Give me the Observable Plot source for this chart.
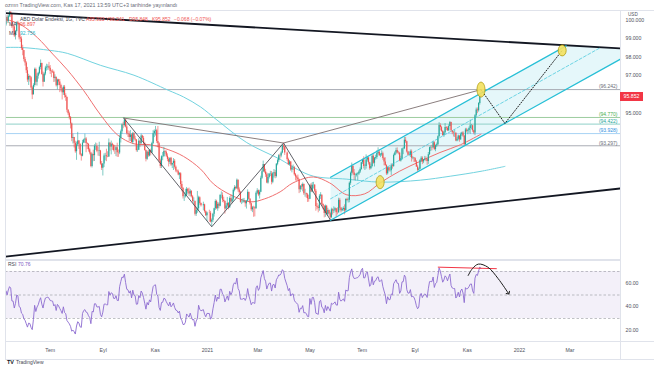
<!DOCTYPE html>
<html><head><meta charset="utf-8">
<script src="https://cdn.jsdelivr.net/npm/d3@7"></script>
<script src="https://cdn.jsdelivr.net/npm/@observablehq/plot@0.6"></script>
<style>
html,body{margin:0;padding:0;background:#fff;}
#wrap{position:relative;width:654px;height:366px;overflow:hidden;background:#fff;font-family:"Liberation Sans",Arial,sans-serif;}
#wrap > svg{position:absolute;left:0;}
.t{position:absolute;white-space:nowrap;line-height:1;}
.ln{position:absolute;background:#e0e3eb;}
</style></head><body><div id="wrap"></div>
<script>
// ---------------- DATA ----------------
const firstMonday = "2020-04-20"; // each row = one week, Mon..Fri (null = no bar)
const closeWeeks = [
[99.93,100.21,100.37,100.41,100.38],[100.01,99.86,99.54,99.02,99.07],[99.47,99.73,100.06,99.74,99.74],
[100.16,99.94,100.23,100.44,100.37],[99.64,99.63,99.14,99.38,99.86],[99.82,99.04,98.97,98.45,98.34],
[97.86,97.67,97.25,96.75,96.94],[96.88,96.32,95.96,96.46,97.32],[96.63,96.95,97.11,97.42,97.64],
[97.05,96.64,97.07,97.40,97.44],[97.46,97.39,97.21,97.19,97.17],[96.83,96.90,96.45,96.76,96.65],
[96.46,96.29,96.07,96.37,95.92],[95.82,95.15,94.96,94.76,94.43],[93.67,93.72,93.43,92.99,93.34],
[93.54,93.37,92.84,92.76,93.44],[93.60,93.65,93.42,93.38,93.09],[92.93,92.23,92.85,92.79,93.26],
[93.26,93.01,93.00,93.03,92.36],[92.14,92.36,92.77,92.78,92.73],[92.72,93.44,93.23,93.37,93.33],
[93.06,93.05,93.19,92.94,92.93],[93.66,94.02,94.38,94.35,94.64],[94.27,93.92,93.89,93.72,93.85],
[93.47,93.92,93.65,93.60,93.06],[93.07,93.53,93.40,93.80,93.68],[93.42,93.05,92.60,92.96,92.77],
[93.06,92.92,93.42,93.92,94.04],[94.07,93.52,93.40,92.51,92.24],[92.73,92.74,93.00,92.96,92.76],
[92.60,92.45,92.65,92.31,92.39],[92.50,92.20,92.00,91.97,91.80],[91.87,91.32,91.12,90.70,90.70],
[90.78,91.08,90.96,90.84,90.98],[90.71,90.46,90.48,89.83,90.02],[90.10,90.65,90.36,90.25,null],
[90.30,89.96,89.76,89.89,null],[89.88,89.44,89.53,89.83,90.10],[90.47,90.11,90.33,90.23,90.77],
[90.77,90.53,90.47,90.09,90.24],[90.38,90.15,90.62,90.44,90.58],[91.03,91.17,91.11,91.53,91.04],
[90.91,90.42,90.42,90.43,90.47],[90.35,90.48,90.93,90.58,90.35],[90.05,90.15,90.14,90.10,90.88],
[91.01,90.79,90.93,91.64,91.97],[92.33,91.95,91.82,91.40,91.67],[91.84,91.85,91.43,91.87,91.91],
[91.72,92.35,92.53,92.78,92.77],[92.93,93.29,93.23,92.93,null],[92.59,92.33,92.47,92.05,92.16],
[92.17,91.82,91.70,91.65,91.56],[91.06,91.23,91.20,91.32,90.85],[90.86,90.80,90.60,90.58,91.28],
[90.94,91.28,91.28,90.98,90.22],[90.18,90.12,90.73,90.79,90.31],[90.23,89.87,90.23,89.82,90.02],
[89.85,89.66,90.06,89.99,90.03],[90.10,89.91,89.90,90.53,90.13],[90.01,90.07,90.12,89.99,90.56],
[90.52,90.53,91.38,91.89,92.23],[91.90,91.78,91.79,91.83,91.85],[91.95,92.08,92.43,92.58,92.23],
[92.24,92.57,92.67,92.42,92.12],[92.24,92.76,92.40,92.66,92.69],[92.90,92.97,92.79,92.82,92.89],
[92.64,92.46,92.29,91.86,92.17],[92.02,92.02,92.27,92.24,92.80],[92.93,93.05,92.92,92.91,92.52],
[92.63,93.13,93.14,93.58,93.50],[92.98,92.81,92.81,92.99,92.65],[92.67,92.63,92.47,92.21,92.04],
[92.10,92.54,92.66,92.47,92.58],[92.62,92.60,92.49,92.84,93.20],[93.21,93.20,93.45,93.10,93.30],
[93.35,93.77,94.35,94.24,94.04],[93.83,93.97,94.25,94.20,94.07],[94.30,94.51,94.08,93.97,93.95],
[93.95,93.55,93.63,93.80,93.60],[93.87,93.96,93.80,93.35,94.12],[94.05,94.09,94.19,94.33,94.34],
[94.07,93.96,94.86,95.16,95.12],[95.50,95.92,95.852]
];
const highWeeks = [
[100.10,100.38,100.56,100.68,100.66],[100.44,100.18,99.98,99.60,99.28],[99.62,99.85,100.22,100.12,99.98],
[100.24,100.26,100.29,100.56,100.54],[100.38,99.77,99.70,99.44,99.92],[99.95,99.86,99.24,99.09,98.63],
[98.33,97.97,97.74,97.43,97.06],[96.99,96.93,96.40,96.55,97.39],[97.39,97.08,97.17,97.50,97.83],
[97.66,97.18,97.14,97.49,97.60],[97.57,97.70,97.53,97.28,97.30],[97.23,97.03,96.90,96.80,96.79],
[96.78,96.53,96.33,96.45,96.46],[96.02,95.85,95.18,95.05,94.82],[94.48,93.90,93.73,93.53,93.49],
[93.99,93.57,93.39,92.89,93.58],[93.64,93.90,93.72,93.45,93.39],[93.17,92.97,92.91,93.07,93.35],
[93.44,93.40,93.22,93.48,93.06],[92.49,92.38,92.88,92.91,93.12],[92.99,93.65,93.44,93.54,93.43],
[93.34,93.31,93.25,93.43,93.08],[93.85,94.11,94.43,94.52,94.74],[94.70,94.36,94.08,94.03,94.09],
[93.92,93.99,93.98,93.79,93.62],[93.29,93.66,93.56,93.90,93.84],[93.78,93.47,93.08,93.02,93.06],
[93.09,93.12,93.48,94.08,94.12],[94.30,94.15,94.30,93.46,92.61],[92.78,92.95,93.21,93.05,93.03],
[92.88,92.69,92.66,92.70,92.40],[92.64,92.59,92.26,92.06,92.05],[91.92,91.92,91.47,91.17,90.91],
[91.08,91.17,91.11,91.14,91.07],[91.00,90.77,90.65,90.45,90.18],[90.97,90.73,90.70,90.39,null],
[90.43,90.33,90.00,89.94,null],[90.03,89.97,89.60,89.88,90.13],[90.55,90.53,90.42,90.40,90.82],
[90.95,90.90,90.68,90.50,90.36],[90.67,90.40,90.70,90.81,90.70],[91.10,91.26,91.23,91.60,91.55],
[91.15,90.97,90.57,90.60,90.62],[90.51,90.52,91.05,90.91,90.61],[90.39,90.22,90.23,90.20,90.95],
[91.11,91.04,91.03,91.74,92.17],[92.51,92.33,92.09,91.91,91.87],[91.88,91.99,91.98,91.93,92.08],
[92.03,92.39,92.61,92.84,92.87],[92.99,93.36,93.44,93.26,null],[92.98,92.66,92.54,92.48,92.26],
[92.31,92.23,91.88,91.77,91.80],[91.59,91.27,91.33,91.40,91.35],[91.08,90.89,90.87,90.78,91.30],
[91.37,91.42,91.43,91.32,91.07],[90.37,90.28,90.81,90.91,90.76],[90.35,90.26,90.29,90.27,90.13],
[90.05,89.93,90.13,90.10,90.20],[90.16,90.10,90.15,90.63,90.62],[90.17,90.14,90.20,90.30,90.60],
[90.63,90.64,91.45,91.95,92.41],[92.30,92.08,91.86,91.89,91.92],[92.02,92.16,92.45,92.61,92.73],
[92.32,92.83,92.75,92.70,92.45],[92.35,92.83,92.87,92.69,92.81],[93.04,93.19,93.07,92.90,93.04],
[92.97,92.70,92.68,92.32,92.21],[92.17,92.20,92.37,92.36,92.87],[92.99,93.17,93.19,93.01,92.96],
[92.76,93.16,93.22,93.73,93.73],[93.53,93.01,92.98,93.08,93.08],[92.74,92.69,92.68,92.54,92.30],
[92.16,92.59,92.74,92.73,92.59],[92.75,92.73,92.62,92.95,93.23],[93.28,93.32,93.53,93.51,93.34],
[93.44,93.81,94.50,94.44,94.31],[94.09,94.04,94.45,94.29,94.28],[94.38,94.56,94.52,94.07,94.04],
[94.11,93.97,93.73,93.85,93.81],[93.96,94.00,94.03,93.81,94.20],[94.20,94.15,94.27,94.63,94.40],
[94.36,94.10,94.92,95.26,95.27],[95.55,95.96,96.241]
];
const lowWeeks = [
[99.51,99.80,100.02,100.15,100.17],[99.92,99.75,99.42,98.87,98.80],[98.96,99.32,99.61,99.66,99.50],
[99.66,99.82,99.83,100.15,100.15],[99.55,99.31,99.05,98.92,99.30],[99.71,98.92,98.78,98.35,98.06],
[97.73,97.50,97.10,96.63,96.46],[96.64,96.26,95.71,95.97,96.37],[96.45,96.43,96.80,97.03,97.30],
[97.01,96.38,96.64,96.98,97.23],[97.27,97.28,97.05,96.88,97.10],[96.62,96.64,96.38,96.23,96.45],
[96.08,96.13,95.69,95.93,95.79],[95.62,95.02,94.87,94.64,94.17],[93.51,93.39,93.18,92.91,92.55],
[93.27,93.11,92.79,92.51,92.73],[93.41,93.42,92.94,93.10,92.97],[92.83,92.17,92.16,92.48,92.49],
[93.06,92.94,92.76,92.74,92.30],[92.03,91.75,92.18,92.52,92.48],[92.68,92.70,93.02,92.83,93.06],
[92.98,92.85,92.74,92.70,92.70],[92.84,93.44,93.89,94.18,94.27],[94.22,93.85,93.73,93.52,93.51],
[93.45,93.38,93.59,93.51,92.97],[92.96,93.05,93.20,93.38,93.58],[93.32,93.02,92.47,92.55,92.70],
[92.73,92.78,92.90,93.36,93.72],[93.80,93.42,93.19,92.41,92.13],[92.13,92.53,92.69,92.86,92.69],
[92.48,92.21,92.34,92.24,92.13],[92.03,92.10,91.92,91.90,91.76],[91.57,91.18,90.95,90.59,90.47],
[90.64,90.74,90.85,90.72,90.69],[90.64,90.39,90.25,89.74,89.72],[89.88,90.00,90.28,90.19,null],
[90.00,89.88,89.72,89.47,null],[89.43,89.40,89.21,89.42,89.69],[90.02,90.06,89.98,90.10,90.20],
[90.60,90.41,90.39,89.84,90.05],[90.15,90.05,90.12,90.33,90.37],[90.48,90.95,91.04,91.08,90.93],
[90.82,90.38,90.31,90.37,90.40],[90.18,90.09,90.45,90.55,90.28],[89.97,89.91,89.68,89.70,90.08],
[90.81,90.71,90.59,90.91,91.58],[91.93,91.89,91.68,91.36,91.34],[91.60,91.72,91.30,91.36,91.65],
[91.61,91.65,92.27,92.44,92.60],[92.68,92.88,93.06,92.80,null],[92.50,92.28,92.26,91.99,91.91],
[92.03,91.75,91.50,91.48,91.49],[90.86,90.91,91.04,90.95,90.77],[90.68,90.63,90.42,90.43,90.56],
[90.93,90.90,91.09,90.90,89.98],[90.05,89.90,89.98,90.57,90.26],[90.05,89.65,89.68,89.76,89.72],
[89.79,89.53,89.63,89.79,89.87],[89.95,89.68,89.80,89.88,90.00],[89.90,89.96,89.98,89.80,90.01],
[90.46,90.39,90.40,91.28,91.75],[91.81,91.52,91.50,91.70,91.51],[91.78,91.88,92.04,92.34,92.11],
[92.03,92.10,92.46,92.31,92.04],[92.07,92.17,92.35,92.21,92.56],[92.60,92.83,92.75,92.69,92.75],
[92.55,92.27,92.24,91.78,91.80],[91.96,91.95,91.78,92.10,92.19],[92.77,92.84,92.88,92.83,92.48],
[92.46,92.55,92.84,93.10,93.42],[92.92,92.77,92.76,92.69,92.46],[92.58,92.44,92.44,92.19,91.94],
[92.01,92.09,92.44,92.33,92.38],[92.52,92.48,92.29,92.34,92.79],[93.00,93.04,93.15,93.05,92.99],
[93.21,93.30,93.74,94.07,94.00],[93.79,93.73,93.91,94.08,94.04],[94.03,94.29,94.02,93.87,93.75],
[93.73,93.51,93.50,93.55,93.48],[93.59,93.78,93.73,93.27,93.28],[93.96,93.87,93.95,93.89,94.12],
[93.99,93.87,93.82,94.78,94.97],[95.05,95.42,95.848]
];

// moving averages
const redMaDates = ["2020-05-11","2020-05-28","2020-06-16","2020-07-04","2020-07-21","2020-08-09","2020-08-29","2020-09-18","2020-10-07","2020-10-26","2020-11-16","2020-12-04","2020-12-24","2021-01-08","2021-01-28","2021-02-20","2021-03-09","2021-03-27","2021-04-11","2021-05-05","2021-05-24","2021-06-13","2021-07-04","2021-07-22","2021-08-14","2021-09-07","2021-09-30","2021-10-24","2021-11-17"];
const redMaValues = [100.05,99.75,99.05,98.15,97.30,96.20,94.90,93.85,93.40,93.35,93.10,92.75,92.10,91.35,90.80,90.45,90.60,90.95,91.40,91.70,91.40,90.80,90.85,91.40,92.00,92.50,92.95,93.35,93.90];
const cyanMaDates = ["2020-05-09","2020-05-28","2020-07-01","2020-07-21","2020-08-29","2020-10-07","2020-11-16","2020-12-04","2020-12-24","2021-01-12","2021-02-16","2021-03-27","2021-04-16","2021-05-05","2021-06-13","2021-07-22","2021-09-07","2021-10-12","2021-11-17","2021-12-15"];
const cyanMaValues = [98.51,98.51,98.35,98.19,97.54,97.01,96.21,95.85,95.32,94.64,93.46,92.60,92.09,91.74,91.59,91.44,91.54,91.74,91.99,92.24];

// horizontal price levels
const levelValues = [96.242, 94.770, 94.422, 93.928, 93.297];

// drawings (date, price)
const triTopDates = ["2020-05-09T17:00Z","2022-04-29T05:00Z"], triTopValues = [100.40, 98.454];
const triBottomDates = ["2020-05-09T17:00Z","2022-04-29T05:00Z"], triBottomValues = [87.75, 91.12];
const zigzagDates = ["2020-09-25","2021-01-06","2021-03-31","2021-05-25"], zigzagValues = [94.74, 89.21, 93.44, 89.53];
const wedgeDates = ["2020-09-25","2021-03-31","2021-11-17"], wedgeValues = [94.74, 93.44, 96.24];
const chLowerDates = ["2021-05-25","2022-04-29T05:00Z"], chLowerValues = [89.53, 97.88];
const chMiddleDates = ["2021-05-25","2022-04-06"], chMiddleValues = [90.60, 98.51];
const chUpperDates = ["2021-05-25","2022-02-24T14:00Z"], chUpperValues = [91.69, 98.60];
const chFillDates = ["2021-05-25","2022-02-24T14:00Z","2022-04-29T05:00Z","2022-04-29T05:00Z","2021-05-25"];
const chFillValues = [91.69, 98.60, 98.454, 97.88, 89.53];
const pathDates = ["2021-11-17","2021-12-15","2022-02-20"], pathValues = [96.24, 94.46, 98.35];
const ellipseDates = ["2021-11-17","2022-02-20","2021-07-22"], ellipseValues = [96.24, 98.35, 91.44];

// RSI pane drawings
const rsiLevels = [70, 50, 30];
const rsiMarkDates = ["2021-09-28","2021-12-05"], rsiMarkValues = [73.7, 72.4];
const rsiArrowDates = ["2021-11-02","2021-11-07","2021-11-14","2021-11-25","2021-12-07","2021-12-19"];
const rsiArrowValues = [66.6, 72.5, 76.3, 73.7, 64.0, 51.5];

// axes (96.000 is hidden behind the last-price tag in the reference)
const priceTicks = [88, 88.7, 89.4, 90.2, 91, 92, 93, 94, 95, 97, 98, 99, 100];
const rsiTicks = [20, 40, 60];
const timeTickDates = ["2020-07-01","2020-09-01","2020-11-01","2021-01-01","2021-03-01","2021-05-01","2021-07-01","2021-09-01","2021-11-01","2022-01-01","2022-03-01"];
const timeTickLabels = ["Tem","Eyl","Kas","2021","Mar","May","Tem","Eyl","Kas","2022","Mar"];

// ---------------- STYLE ----------------
const FONT = '"Liberation Sans", Arial, sans-serif';
const UP = "#26a69a", DOWN = "#ef5350";
const levelLineColors = ["#a9acb5", "#9ccc9f", "#8fd0c8", "#a8d3f5", "#a9acb5"];
const levelTextColors = ["#6a6d78", "#4caf50", "#26a69a", "#2f8fe0", "#6a6d78"];
const ellipseRadii = [7.5, 5.5, 6.5];
const CH = "#26bfd6";

// ---------------- BUILD ----------------
const DAY = 864e5;
const bars = [];
closeWeeks.forEach((week, i) => week.forEach((close, j) => {
  if (close == null) return;
  const open = bars.length ? bars[bars.length - 1].close : close;
  bars.push({date: new Date(Date.parse(firstMonday) + (7 * i + 1.4 * j - 0.8) * DAY),
             open, close, high: highWeeks[i][j], low: lowWeeks[i][j]});
}));
function wilderRsi(vals, n) {
  const out = vals.map(() => null); let g = 0, l = 0;
  for (let i = 1; i < vals.length; i++) {
    const d = vals[i] - vals[i - 1], up = Math.max(d, 0), dn = Math.max(-d, 0);
    if (i <= n) { g += up; l += dn; if (i === n) { g /= n; l /= n; out[i] = 100 - 100 / (1 + g / l); } }
    else { g = (g * (n - 1) + up) / n; l = (l * (n - 1) + dn) / n; out[i] = l === 0 ? 100 : 100 - 100 / (1 + g / l); }
  }
  return out;
}
const rsiVals = wilderRsi(bars.map(b => b.close), 14);
const rsiData = bars.map((b, i) => ({date: b.date, rsi: rsiVals[i]})).filter(d => d.rsi != null);

const pts = (ds, vs) => ds.map((d, i) => ({date: new Date(d), value: vs[i]}));
const xDomain = [new Date("2020-05-09T17:00Z"), new Date("2022-04-29T05:00Z")];
const tickLabelOf = new Map(timeTickDates.map((d, i) => [+new Date(d), timeTickLabels[i]]));
const dir = d => d.close >= d.open ? UP : DOWN;

const ellipseSymbol = {draw(ctx, size) {
  const ry = Math.sqrt(size / Math.PI), rx = 4, k = 0.5523;
  ctx.moveTo(rx, 0);
  ctx.bezierCurveTo(rx, k * ry, k * rx, ry, 0, ry);
  ctx.bezierCurveTo(-k * rx, ry, -rx, k * ry, -rx, 0);
  ctx.bezierCurveTo(-rx, -k * ry, -k * rx, -ry, 0, -ry);
  ctx.bezierCurveTo(k * rx, -ry, rx, -k * ry, rx, 0);
  ctx.closePath();
}};
const ellipses = pts(ellipseDates, ellipseValues);

const main = Plot.plot({
  width: 654, height: 260, marginTop: 10, marginBottom: 1, marginLeft: 5, marginRight: 34,
  style: {background: "transparent", fontFamily: FONT, fontSize: "5.2px", color: "#50535e", overflow: "visible"},
  color: {type: "identity"},
  x: {type: "utc", domain: xDomain, axis: null},
  y: {type: "log", domain: [87.61, 100.545], axis: "right", ticks: priceTicks, tickFormat: d => d.toFixed(3), tickSize: 0, tickPadding: 5, label: null},
  marks: [
    Plot.line(pts(chFillDates, chFillValues), {x: "date", y: "value", fill: CH, fillOpacity: 0.12, stroke: "none"}),
    Plot.ruleY(levelValues, {y: d => d, stroke: (d, i) => levelLineColors[i], strokeWidth: 1}),
    Plot.line(pts(cyanMaDates, cyanMaValues), {x: "date", y: "value", stroke: "#72d3df", strokeWidth: 1, curve: "catmull-rom", clip: true}),
    Plot.line(pts(redMaDates, redMaValues), {x: "date", y: "value", stroke: "#f07070", strokeWidth: 1, curve: "catmull-rom", clip: true}),
    Plot.ruleX(bars, {x: "date", y1: "low", y2: "high", stroke: dir, strokeWidth: 0.6, clip: true}),
    Plot.ruleX(bars, {x: "date", y1: "open", y2: "close", stroke: dir, strokeWidth: 1.15, clip: true}),
    Plot.line(pts(triTopDates, triTopValues), {x: "date", y: "value", stroke: "#131722", strokeWidth: 1.8, clip: true}),
    Plot.line(pts(triBottomDates, triBottomValues), {x: "date", y: "value", stroke: "#131722", strokeWidth: 1.8, clip: true}),
    Plot.line(pts(zigzagDates, zigzagValues), {x: "date", y: "value", stroke: "#4e4f57", strokeWidth: 0.9}),
    Plot.line(pts(wedgeDates, wedgeValues), {x: "date", y: "value", stroke: "#7d6f6f", strokeWidth: 0.9}),
    Plot.line(pts(chMiddleDates, chMiddleValues), {x: "date", y: "value", stroke: CH, strokeOpacity: 0.7, strokeWidth: 0.9, strokeDasharray: "3,2"}),
    Plot.line(pts(chLowerDates, chLowerValues), {x: "date", y: "value", stroke: CH, strokeWidth: 1.3}),
    Plot.line(pts(chUpperDates, chUpperValues), {x: "date", y: "value", stroke: CH, strokeWidth: 1.3}),
    Plot.line(pts(pathDates, pathValues), {x: "date", y: "value", stroke: "#1e1e1e", strokeWidth: 1, strokeDasharray: "1,1.7"}),
    ...ellipses.map((e, i) => Plot.dot([e], {x: "date", y: "value", r: ellipseRadii[i], symbol: ellipseSymbol, fill: "#f3e15f", fillOpacity: 0.9, stroke: "#a89200", strokeWidth: 0.7})),
    Plot.text(levelValues, {y: d => d, text: d => `(${d.toFixed(3)})`, frameAnchor: "right", textAnchor: "end", dx: -3, dy: -2.8, fill: (d, i) => levelTextColors[i], fontSize: 5}),
    Plot.frame({stroke: "#e0e3eb"})
  ]
});

const rsiPlot = Plot.plot({
  width: 654, height: 108, marginTop: 2, marginBottom: 25, marginLeft: 5, marginRight: 34,
  style: {background: "transparent", fontFamily: FONT, fontSize: "5.2px", color: "#50535e", overflow: "visible"},
  x: {type: "utc", domain: xDomain, axis: "bottom", ticks: timeTickDates.map(d => new Date(d)), tickFormat: d => tickLabelOf.get(+d), tickSize: 0, tickPadding: 7, label: null},
  y: {domain: [10.43, 79.36], axis: "right", ticks: rsiTicks, tickFormat: d => d.toFixed(2), tickSize: 0, tickPadding: 5, label: null},
  marks: [
    Plot.rect([{lo: 30, hi: 70}], {y1: "lo", y2: "hi", fill: "#7e57c2", fillOpacity: 0.09}),
    Plot.ruleY(rsiLevels, {y: d => d, stroke: "#8d8f99", strokeOpacity: 0.7, strokeWidth: 0.8, strokeDasharray: "2.5,2"}),
    Plot.line(rsiData, {x: "date", y: "rsi", stroke: "#8c6bd0", strokeWidth: 0.9, clip: true}),
    Plot.line(pts(rsiMarkDates, rsiMarkValues), {x: "date", y: "value", stroke: "#f23645", strokeWidth: 1}),
    Plot.line(pts(rsiArrowDates, rsiArrowValues), {x: "date", y: "value", stroke: "#1e1e1e", strokeWidth: 1, curve: "catmull-rom", markerEnd: "arrow"}),
    Plot.frame({stroke: "#e0e3eb"})
  ]
});

const wrap = document.getElementById("wrap");
main.style.top = "0px"; rsiPlot.style.top = "258px";
wrap.appendChild(main); wrap.appendChild(rsiPlot);

function txt(s, left, top, color, size, extra) {
  const e = document.createElement("div"); e.className = "t"; e.textContent = s;
  e.style.left = left + "px"; e.style.top = top + "px"; e.style.color = color; e.style.fontSize = size + "px";
  if (extra) Object.assign(e.style, extra);
  wrap.appendChild(e); return e;
}
function line(l, t, w, h) { const e = document.createElement("div"); e.className = "ln";
  Object.assign(e.style, {left: l + "px", top: t + "px", width: w + "px", height: h + "px"}); wrap.appendChild(e); }

// time-axis row borders
line(5, 341, 649, 1); line(5, 359, 649, 1); line(5, 341, 1, 18); line(620, 341, 1, 18);
line(620, 10, 34, 1);

// header
txt("ozmn TradingView.com, Kas 17, 2021 13:59 UTC+3 tarihinde yayınlandı", 5, 2.5, "#6a6d78", 5.4);
txt("ABD Dolar Endeksi, 1G, TVC", 20, 16.5, "#434651", 5);
const last = bars[bars.length - 1];
txt("A95.933", 86, 16.5, "#ef5350", 5); txt("Y96.241", 106, 16.5, "#ef5350", 5);
txt("D95.848", 129, 16.5, "#ef5350", 5); txt("K95.852", 152, 16.5, "#ef5350", 5);
txt("−0.068 (−0.07%)", 174, 16.5, "#ef5350", 5);
txt("MA", 9, 21.5, "#434651", 5); txt("96.897", 20, 21.5, "#ef5350", 5);
txt("MA", 9, 30.5, "#434651", 5); txt("92.756", 20, 30.5, "#26b5c9", 5);
txt("USD", 627, 12.5, "#50535e", 4.6, {background: "#fff", padding: "0 1px"});

// current price tag on the price scale
const yLast = main.scale("y").apply(last.close);
txt(last.close.toFixed(3), 620, yLast - 4.5, "#fff", 5.2, {background: "#f23645", width: "23px", height: "9px", lineHeight: "9px", textAlign: "center"});

// RSI legend and footer
txt("RSI", 8, 261.5, "#434651", 5); txt("70.76", 18, 261.5, "#7e57c2", 5);
txt("TV", 7, 360, "#131722", 5.5, {fontWeight: "bold"});
txt("TradingView", 16, 360.3, "#434651", 5);
</script></body></html>
